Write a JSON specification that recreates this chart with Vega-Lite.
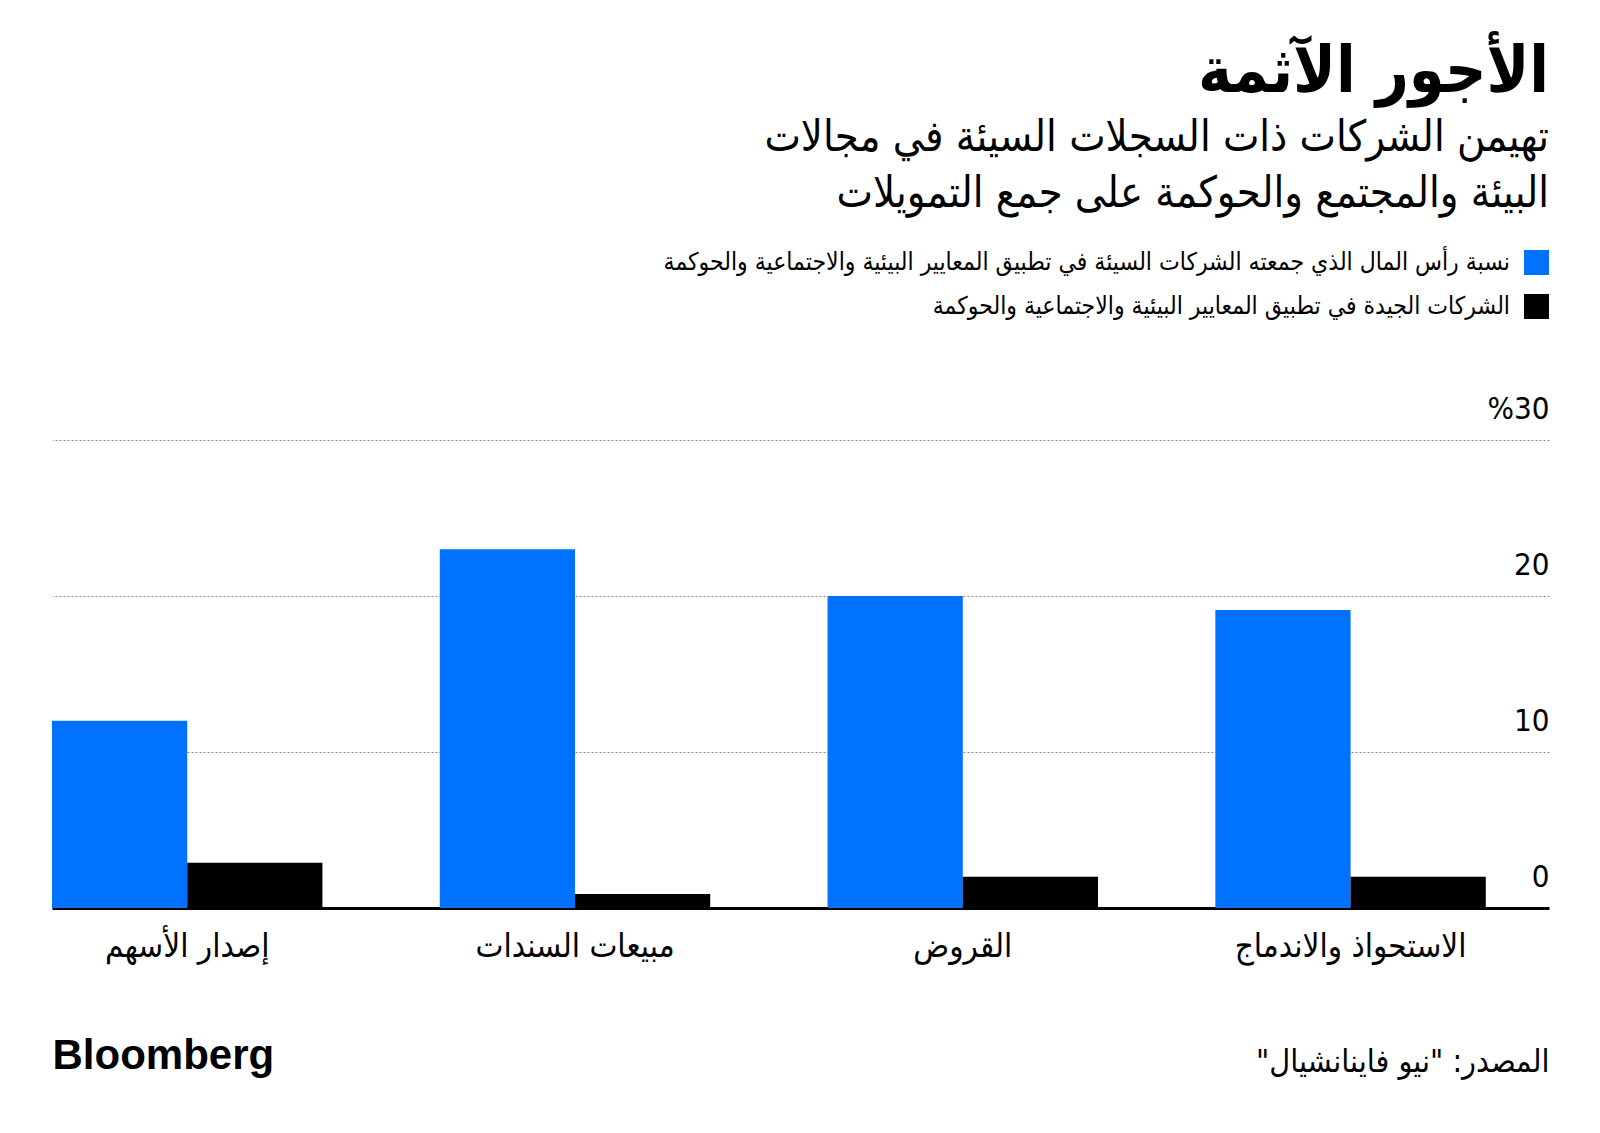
{
  "$schema": "https://vega.github.io/schema/vega-lite/v6.json",
  "width": 1497,
  "height": 468,
  "autosize": "none",
  "padding": {"left": 52, "top": 440, "right": 51, "bottom": 225},
  "background": "white",
  "title": {
    "text": "الأجور الآثمة",
    "subtitle": ["تهيمن الشركات ذات السجلات السيئة في مجالات", "البيئة والمجتمع والحوكمة على جمع التمويلات"],
    "anchor": "end",
    "frame": "group",
    "orient": "top",
    "offset": 34,
    "font": "DejaVu Sans Condensed, DejaVu Sans",
    "fontSize": 64,
    "fontWeight": "bold",
    "color": "#000000",
    "subtitleFont": "DejaVu Sans Condensed, DejaVu Sans",
    "subtitleFontSize": 43,
    "subtitleColor": "#000000",
    "subtitleLineHeight": 56,
    "subtitlePadding": 12
  },
  "data": {
    "values": [
      {"category": "إصدار الأسهم", "series": "نسبة رأس المال الذي جمعته الشركات السيئة في تطبيق المعايير البيئية والاجتماعية والحوكمة", "value": 12.0},
      {"category": "إصدار الأسهم", "series": "الشركات الجيدة في تطبيق المعايير البيئية والاجتماعية والحوكمة", "value": 2.9},
      {"category": "مبيعات السندات", "series": "نسبة رأس المال الذي جمعته الشركات السيئة في تطبيق المعايير البيئية والاجتماعية والحوكمة", "value": 23.0},
      {"category": "مبيعات السندات", "series": "الشركات الجيدة في تطبيق المعايير البيئية والاجتماعية والحوكمة", "value": 0.9},
      {"category": "القروض", "series": "نسبة رأس المال الذي جمعته الشركات السيئة في تطبيق المعايير البيئية والاجتماعية والحوكمة", "value": 20.0},
      {"category": "القروض", "series": "الشركات الجيدة في تطبيق المعايير البيئية والاجتماعية والحوكمة", "value": 2.0},
      {"category": "الاستحواذ والاندماج", "series": "نسبة رأس المال الذي جمعته الشركات السيئة في تطبيق المعايير البيئية والاجتماعية والحوكمة", "value": 19.1},
      {"category": "الاستحواذ والاندماج", "series": "الشركات الجيدة في تطبيق المعايير البيئية والاجتماعية والحوكمة", "value": 2.0}
    ]
  },
  "mark": {"type": "bar"},
  "encoding": {
    "x": {
      "field": "category",
      "type": "nominal",
      "sort": ["إصدار الأسهم", "مبيعات السندات", "القروض", "الاستحواذ والاندماج"],
      "scale": {"paddingInner": 0.3026, "paddingOuter": 0.0815, "align": 0},
      "axis": {
        "title": "\u200fالمصدر: \"نيو فاينانشيال\"\u200f",
        "titleFont": "DejaVu Sans Condensed, DejaVu Sans",
        "titleFontSize": 32,
        "titleFontWeight": "normal",
        "titleColor": "#000000",
        "titleAlign": "right",
        "titleAnchor": null,
        "titleX": 1497,
        "titleY": 153,
        "titleBaseline": "middle",
        "labelAngle": 0,
        "labelFont": "DejaVu Sans Condensed, DejaVu Sans",
        "labelFontSize": 33,
        "labelColor": "#000000",
        "labelPadding": 22,
        "labelLimit": 600,
        "ticks": false,
        "tickSize": 0,
        "domain": true,
        "domainColor": "#000000",
        "domainWidth": 3,
        "grid": false
      }
    },
    "xOffset": {
      "field": "series",
      "type": "nominal",
      "sort": ["نسبة رأس المال الذي جمعته الشركات السيئة في تطبيق المعايير البيئية والاجتماعية والحوكمة", "الشركات الجيدة في تطبيق المعايير البيئية والاجتماعية والحوكمة"],
      "scale": {"paddingInner": 0, "paddingOuter": 0}
    },
    "y": {
      "field": "value",
      "type": "quantitative",
      "scale": {"domain": [0, 30], "nice": false, "zero": true},
      "axis": {
        "orient": "right",
        "values": [0, 10, 20, 30],
        "labelExpr": "datum.value == 30 ? '%30' : datum.label",
        "title": "Bloomberg",
        "titleFont": "Liberation Sans, Arial",
        "titleFontSize": 42,
        "titleFontWeight": "bold",
        "titleColor": "#000000",
        "titleAngle": 0,
        "titleAlign": "left",
        "titleAnchor": null,
        "titleX": -1497,
        "titleY": 615,
        "titleBaseline": "middle",
        "grid": true,
        "gridColor": "#8a8a8a",
        "gridDash": [2, 2],
        "gridWidth": 1,
        "domain": false,
        "ticks": false,
        "tickSize": 0,
        "labelAlign": "right",
        "labelPadding": 0,
        "labelBaseline": "alphabetic",
        "labelOffset": -22,
        "labelFont": "Liberation Sans Narrow, DejaVu Sans Condensed, Roboto",
        "labelFontSize": 31,
        "labelColor": "#000000",
        "labelOverlap": false,
        "labelFlush": false,
        "labelBound": false
      }
    },
    "color": {
      "field": "series",
      "type": "nominal",
      "scale": {
        "domain": ["نسبة رأس المال الذي جمعته الشركات السيئة في تطبيق المعايير البيئية والاجتماعية والحوكمة", "الشركات الجيدة في تطبيق المعايير البيئية والاجتماعية والحوكمة"],
        "range": ["#0072ff", "#000000"]
      },
      "legend": {
        "title": null,
        "orient": "none",
        "legendX": 1472,
        "legendY": -190,
        "direction": "vertical",
        "symbolType": "square",
        "symbolSize": 625,
        "symbolStrokeWidth": 0,
        "symbolOpacity": 1,
        "labelAlign": "right",
        "labelOffset": -39,
        "labelFont": "DejaVu Sans Condensed, DejaVu Sans",
        "labelFontSize": 24.5,
        "labelColor": "#000000",
        "labelLimit": 1200,
        "rowPadding": 18,
        "padding": 0
      }
    }
  },
  "config": {
    "view": {"stroke": null},
    "bar": {"discreteBandSize": null}
  }
}
